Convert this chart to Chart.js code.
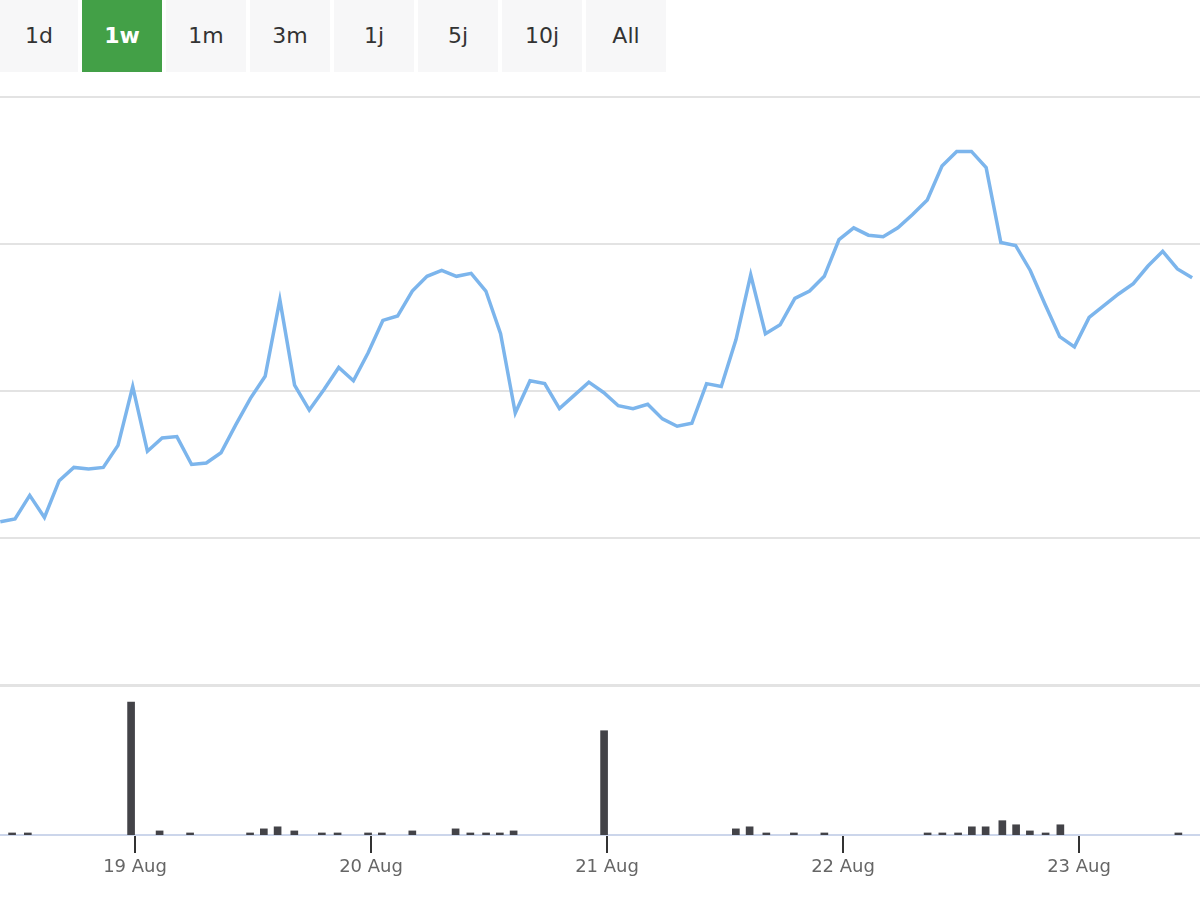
<!DOCTYPE html>
<html>
<head>
<meta charset="utf-8">
<script src="https://cdn.jsdelivr.net/npm/chart.js@4"></script>
<style>
  body { margin: 0; width: 1200px; height: 900px; background: #fff; font-family: "DejaVu Sans", sans-serif; position: relative; overflow: hidden; }
  .btns { position: absolute; left: 0; top: 0; display: flex; gap: 4px; }
  .btns div { width: 80px; height: 72px; line-height: 72px; text-align: center; background: #f7f7f8; color: #333; font-size: 22px; }
  .btns div:first-child { width: 78px; }
  .btns div.on { background: #43a047; color: #fff; font-weight: bold; }
  #priceWrap { position: absolute; left: 0; top: 92px; width: 1200px; height: 598px; }
  #volWrap { position: absolute; left: 0; top: 684px; width: 1200px; height: 216px; border-top: 3px solid #e3e3e3; box-sizing: border-box; }
</style>
</head>
<body>
<div class="btns">
  <div>1d</div><div class="on">1w</div><div>1m</div><div>3m</div><div>1j</div><div>5j</div><div>10j</div><div>All</div>
</div>
<div id="priceWrap"><canvas id="priceChart"></canvas></div>
<div id="volWrap"><canvas id="volChart"></canvas></div>
<script>
// hours relative to 19 Aug 00:00
const dayTicks = [0, 24, 48, 72, 96];
const dayLabels = ['19 Aug', '20 Aug', '21 Aug', '22 Aug', '23 Aug'];
const xMin = -13.73, xMax = 108.3;

const prices = [11.1, 11.3, 12.9, 11.4, 13.9, 14.8, 14.7, 14.8, 16.3, 20.3, 15.9, 16.8, 16.9, 15.0, 15.1, 15.8,
  17.7, 19.5, 21.0, 26.2, 20.4, 18.7, 20.1, 21.6, 20.7, 22.6, 24.8, 25.1, 26.8, 27.8, 28.2, 27.8, 28.0, 26.8,
  23.9, 18.5, 20.7, 20.5, 18.8, 19.7, 20.6, 19.9, 19.0, 18.8, 19.1, 18.1, 17.6, 17.8, 20.5, 20.3, 23.5, 27.9,
  23.9, 24.5, 26.3, 26.8, 27.8, 30.3, 31.1, 30.6, 30.5, 31.1, 32.0, 33.0, 35.3, 36.3, 36.3, 35.2, 30.1, 29.9,
  28.2, 25.9, 23.7, 23.0, 25.0, 25.8, 26.6, 27.3, 28.5, 29.5, 28.3, 27.7];
const priceStart = -13.7, priceEnd = 107.5;

const volHours = [-12.5, -10.9, -0.4, 2.5, 5.6, 11.7, 13.1, 14.5, 16.2, 19.0, 20.6, 23.7, 25.1, 28.2, 32.6, 34.1,
  35.7, 37.1, 38.5, 47.7, 61.1, 62.5, 64.2, 67.0, 70.1, 80.6, 82.1, 83.7, 85.1, 86.5, 88.2, 89.6, 91.0, 92.6, 94.1, 106.1];
const volumes = [2, 2, 130, 4, 2, 2, 6, 8, 4, 2, 2, 2, 2, 4, 6, 2, 2, 2, 4, 102, 6, 8, 2, 2, 2, 2, 2, 2, 8, 8, 14,
  10, 4, 2, 10, 2];

const setDayTicks = (scale) => { scale.ticks = dayTicks.map(v => ({value: v})); };
const priceStep = (priceEnd - priceStart) / (prices.length - 1);

new Chart(document.getElementById('priceChart'), {
    type: 'line',
    data: {
        datasets: [{
            data: prices.map((p, i) => ({x: priceStart + i * priceStep, y: p})),
            borderColor: '#7cb5ec',
            borderWidth: 3.5,
            pointRadius: 0,
            tension: 0
        }]
    },
    options: {
        responsive: true, maintainAspectRatio: false, animation: false,
        layout: {padding: {top: 5, bottom: 5}},
        plugins: {legend: {display: false}, tooltip: {enabled: false}},
        scales: {
            x: {type: 'linear', min: xMin, max: xMax, display: false},
            y: {
                min: 0, max: 40,
                ticks: {display: false, stepSize: 10},
                grid: {color: '#e3e3e3', lineWidth: 2, drawTicks: false},
                border: {display: false}
            }
        }
    }
});

new Chart(document.getElementById('volChart'), {
    type: 'bar',
    data: {
        datasets: [{
            data: volHours.map((h, i) => ({x: h, y: volumes[i]})),
            backgroundColor: '#434348',
            barThickness: 7
        }]
    },
    options: {
        responsive: true, maintainAspectRatio: false, animation: false,
        layout: {padding: {top: 11, left: 0, right: 0}},
        plugins: {legend: {display: false}, tooltip: {enabled: false}},
        scales: {
            x: {
                type: 'linear', min: xMin, max: xMax, offset: false,
                afterBuildTicks: setDayTicks,
                afterFit: (s) => { s.height = 65; },
                ticks: {
                    color: '#666', font: {size: 18, family: 'DejaVu Sans'}, padding: 4,
                    callback: (v) => dayLabels[dayTicks.indexOf(v)] || ''
                },
                grid: {drawOnChartArea: false, offset: false, tickLength: 18, color: '#333', lineWidth: 2},
                border: {color: '#ccd6eb', width: 2}
            },
            y: {min: 0, max: 134, display: false}
        }
    }
});
</script>
</body>
</html>
